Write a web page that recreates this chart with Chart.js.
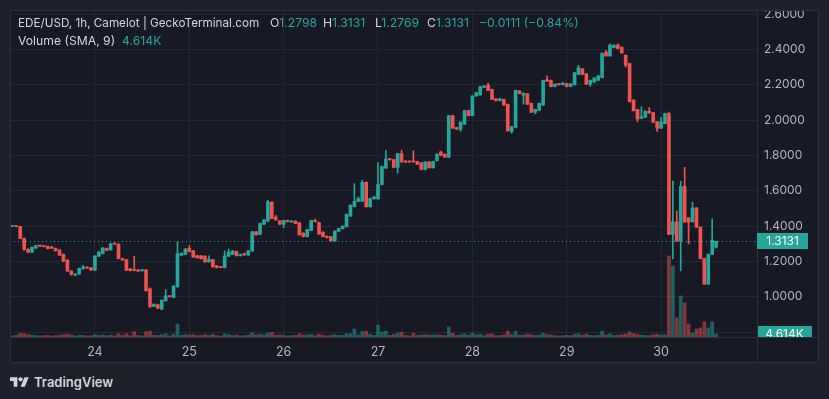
<!DOCTYPE html>
<html>
<head>
<meta charset="utf-8">
<script src="https://cdn.jsdelivr.net/npm/chart.js@4"></script>
<style>
  html, body { margin:0; padding:0; width:829px; height:399px; overflow:hidden; background:#1e212b; font-family: Inter, "Noto Sans", sans-serif; }
  #wrap { position:absolute; left:10px; top:10px; width:809px; height:353px; background:#171a25; }
  #wrap canvas { position:absolute; left:0; top:0; }
  .lg { position:absolute; color:#d1d4dc; font-size:12.2px; line-height:18px; white-space:nowrap; }
  .v { color:#26a69a; }
  #logo { position:absolute; left:10px; top:374px; color:#d1d4dc; font-size:13px; font-weight:600; display:flex; align-items:center; }
  #logo svg { fill:#d1d4dc; margin-right:5px; }
</style>
</head>
<body>
<div id="wrap"><canvas id="myChart" width="809" height="353"></canvas></div>
<div class="lg" style="left:18px;top:14px;font-size:11.7px">EDE/USD, 1h, Camelot | GeckoTerminal.com</div>
<div class="lg" style="left:270px;top:14px">O<span class="v" id="lo"></span></div>
<div class="lg" style="left:323px;top:14px">H<span class="v" id="lh"></span></div>
<div class="lg" style="left:375px;top:14px">L<span class="v" id="ll"></span></div>
<div class="lg" style="left:427px;top:14px">C<span class="v" id="lc"></span></div>
<div class="lg v" style="left:479px;top:14px">−0.0111 (−0.84%)</div>
<div class="lg" style="left:18px;top:32px">Volume (SMA, 9)<span class="v" id="lv" style="margin-left:7px"></span></div>
<div id="logo"><svg width="19" height="15" viewBox="0 0 36 28"><path d="M14 22H7V11H0V4h14v18z"/><circle cx="20" cy="8" r="4"/><path d="M28 22h-8l7.5-18h8z"/></svg><span>TradingView</span></div>
<script>
// hourly candles, first one at 23rd 03:00
const firstHour = 3;
const opens = [
  1.398,1.401,1.397,1.330,1.268,1.252,1.275,1.290,1.287,1.285,
  1.280,1.274,1.265,1.240,1.208,1.146,1.122,1.128,1.158,1.168,
  1.163,1.150,1.229,1.244,1.273,1.265,1.302,1.297,1.216,1.210,
  1.158,1.152,1.152,1.147,1.152,1.045,0.945,0.955,0.930,0.977,
  1.005,0.996,1.056,1.235,1.240,1.275,1.260,1.232,1.232,1.230,
  1.197,1.210,1.175,1.168,1.165,1.229,1.240,1.256,1.232,1.243,
  1.236,1.259,1.368,1.353,1.410,1.428,1.535,1.450,1.430,1.410,
  1.432,1.423,1.428,1.418,1.360,1.340,1.376,1.432,1.420,1.366,
  1.342,1.340,1.315,1.370,1.385,1.396,1.456,1.510,1.540,1.541,
  1.648,1.509,1.554,1.554,1.635,1.728,1.779,1.776,1.732,1.810,
  1.768,1.765,1.768,1.765,1.758,1.720,1.763,1.730,1.770,1.820,
  1.807,1.790,2.025,1.958,1.948,1.976,2.054,2.025,2.136,2.142,
  2.185,2.198,2.174,2.120,2.110,2.117,2.089,1.935,1.958,2.165,
  2.140,2.149,2.095,2.044,2.055,2.085,2.228,2.224,2.190,2.206,
  2.200,2.206,2.190,2.200,2.258,2.290,2.262,2.203,2.215,2.225,
  2.240,2.385,2.363,2.410,2.424,2.412,2.367,2.320,2.113,2.060,
  2.010,2.015,2.050,2.042,1.990,1.954,1.980,2.037,1.353,1.423,
  1.315,1.625,1.447,1.424,1.503,1.394,1.216,1.071,1.240,1.2798
];
const highs = [
  1.403,1.402,1.399,1.332,1.272,1.282,1.292,1.292,1.289,1.287,
  1.286,1.276,1.267,1.242,1.210,1.148,1.130,1.162,1.178,1.171,
  1.166,1.233,1.256,1.279,1.276,1.302,1.304,1.300,1.219,1.212,
  1.160,1.230,1.154,1.153,1.154,1.050,0.960,0.958,0.982,1.040,
  1.008,1.062,1.310,1.248,1.272,1.290,1.262,1.235,1.234,1.232,
  1.232,1.212,1.177,1.170,1.260,1.270,1.262,1.258,1.242,1.248,
  1.262,1.370,1.370,1.417,1.436,1.545,1.537,1.460,1.432,1.434,
  1.434,1.430,1.430,1.420,1.362,1.382,1.434,1.440,1.422,1.368,
  1.344,1.342,1.374,1.387,1.402,1.468,1.520,1.640,1.565,1.660,
  1.650,1.558,1.567,1.760,1.740,1.828,1.784,1.778,1.812,1.830,
  1.770,1.768,1.826,1.767,1.760,1.765,1.765,1.768,1.809,1.825,
  1.809,2.027,2.027,1.960,1.990,2.056,2.056,2.138,2.157,2.191,
  2.195,2.210,2.176,2.122,2.122,2.119,2.091,1.965,2.170,2.167,
  2.154,2.151,2.097,2.062,2.097,2.226,2.250,2.226,2.205,2.208,
  2.212,2.208,2.207,2.270,2.310,2.292,2.264,2.227,2.240,2.252,
  2.380,2.395,2.432,2.426,2.432,2.414,2.369,2.322,2.115,2.062,
  2.075,2.052,2.070,2.044,1.992,2.015,2.039,2.045,1.654,1.485,
  1.654,1.732,1.449,1.535,1.505,1.396,1.218,1.242,1.440,1.3131
];
const lows = [
  1.396,1.395,1.328,1.262,1.248,1.250,1.273,1.284,1.282,1.270,
  1.273,1.258,1.233,1.198,1.143,1.122,1.120,1.126,1.156,1.160,
  1.148,1.148,1.227,1.242,1.260,1.263,1.296,1.214,1.206,1.148,
  1.146,1.146,1.143,1.145,1.032,0.940,0.943,0.932,0.926,0.975,
  0.998,0.994,1.054,1.233,1.238,1.253,1.223,1.218,1.213,1.195,
  1.195,1.167,1.163,1.163,1.163,1.227,1.238,1.230,1.230,1.234,
  1.234,1.257,1.348,1.351,1.408,1.426,1.441,1.433,1.408,1.390,
  1.423,1.421,1.413,1.348,1.338,1.338,1.374,1.423,1.353,1.338,
  1.333,1.313,1.313,1.368,1.383,1.394,1.454,1.508,1.538,1.539,
  1.507,1.507,1.552,1.552,1.633,1.726,1.772,1.730,1.700,1.761,
  1.760,1.760,1.761,1.748,1.718,1.718,1.728,1.728,1.768,1.798,
  1.788,1.788,1.952,1.946,1.936,1.974,2.023,2.023,2.134,2.140,
  2.183,2.166,2.115,2.108,2.108,2.083,1.937,1.925,1.956,2.148,
  2.090,2.087,2.042,2.035,2.053,2.083,2.218,2.188,2.188,2.198,
  2.198,2.188,2.188,2.198,2.256,2.256,2.201,2.190,2.213,2.223,
  2.238,2.361,2.361,2.408,2.403,2.378,2.300,2.102,2.051,1.990,
  2.008,2.013,2.038,1.986,1.935,1.952,1.978,1.351,1.214,1.313,
  1.146,1.421,1.299,1.422,1.392,1.214,1.069,1.069,1.238,1.2769
];
const closes = [
  1.401,1.397,1.330,1.268,1.252,1.280,1.290,1.286,1.284,1.272,
  1.275,1.260,1.235,1.200,1.145,1.126,1.128,1.160,1.168,1.162,
  1.152,1.231,1.253,1.276,1.262,1.300,1.298,1.216,1.208,1.150,
  1.148,1.148,1.145,1.150,1.034,0.943,0.958,0.935,0.980,1.005,
  1.000,1.060,1.244,1.245,1.270,1.255,1.225,1.220,1.215,1.197,
  1.210,1.169,1.165,1.165,1.231,1.253,1.258,1.232,1.240,1.236,
  1.260,1.368,1.350,1.415,1.434,1.537,1.443,1.435,1.410,1.432,
  1.425,1.428,1.415,1.350,1.340,1.380,1.432,1.425,1.355,1.340,
  1.335,1.315,1.372,1.385,1.400,1.466,1.518,1.540,1.555,1.648,
  1.509,1.556,1.565,1.635,1.738,1.779,1.776,1.732,1.810,1.763,
  1.762,1.763,1.763,1.750,1.720,1.763,1.730,1.766,1.807,1.800,
  1.790,2.025,1.954,1.948,1.988,2.054,2.025,2.136,2.155,2.189,
  2.193,2.168,2.117,2.110,2.120,2.085,1.939,1.963,2.168,2.150,
  2.152,2.089,2.044,2.060,2.095,2.224,2.220,2.190,2.203,2.200,
  2.210,2.190,2.205,2.268,2.296,2.258,2.203,2.225,2.238,2.250,
  2.378,2.363,2.424,2.424,2.405,2.380,2.311,2.104,2.053,2.006,
  2.020,2.050,2.040,1.988,1.954,1.990,2.037,1.353,1.423,1.315,
  1.625,1.423,1.423,1.503,1.394,1.216,1.071,1.240,1.319,1.3131
];
// volume in K
const volumes = [
  0.4,0.6,1.3,1.3,0.9,0.7,0.6,0.4,0.5,0.6,
  0.4,0.5,0.7,0.9,1.1,0.8,0.4,0.7,0.6,0.4,
  0.5,1.0,0.6,0.8,0.5,0.7,0.4,1.2,0.6,1.3,
  0.5,2.0,0.6,0.4,2.0,2.2,0.7,0.6,0.9,1.2,
  0.4,1.1,4.9,0.7,0.9,0.8,0.9,0.5,0.6,0.9,
  0.6,1.0,0.5,0.4,1.2,0.9,0.6,0.8,0.4,0.5,
  0.7,1.6,0.8,1.1,0.8,1.5,1.8,0.7,0.8,0.7,
  0.4,0.5,0.6,1.2,0.7,0.8,1.0,0.5,1.1,0.7,
  0.4,0.7,0.9,0.6,0.7,1.2,1.3,3.0,0.8,2.0,
  2.2,1.0,0.6,4.5,1.9,2.2,0.6,1.0,1.5,1.8,
  0.6,0.4,1.4,0.6,0.8,0.9,0.7,0.8,0.9,0.7,
  0.6,3.8,1.4,0.6,0.9,1.2,0.7,1.5,0.8,1.0,
  0.5,1.1,1.2,0.5,0.6,0.9,2.2,1.0,2.2,0.7,
  0.8,1.1,0.9,0.6,0.7,1.5,0.9,0.8,0.5,0.4,
  0.5,0.6,0.5,1.0,1.2,0.7,1.1,0.6,0.5,0.7,
  2.2,0.8,1.2,0.6,0.7,0.9,1.1,1.9,1.3,1.0,
  0.7,0.6,0.5,0.9,1.0,0.7,0.9,30.6,26.8,7.2,
  15.5,12.9,4.9,1.5,3.0,3.4,5.7,3.4,5.7,1.1
];
const dayLabels = [24, 25, 26, 27, 28, 29, 30];
const priceTicks = [0.8, 1.0, 1.2, 1.4, 1.6, 1.8, 2.0, 2.2, 2.4, 2.6];
const lastPrice = 1.3131;
const volSmaText = '4.614K';

const UP = '#26a69a', DOWN = '#ef5350';
const UPV = 'rgba(38,166,154,0.5)', DOWNV = 'rgba(239,83,80,0.5)';
const GRID = '#232733', FRAME = '#2c303b';

document.getElementById('lo').textContent = opens[opens.length-1].toFixed(4);
document.getElementById('lh').textContent = highs[highs.length-1].toFixed(4);
document.getElementById('ll').textContent = lows[lows.length-1].toFixed(4);
document.getElementById('lc').textContent = closes[closes.length-1].toFixed(4);
document.getElementById('lv').textContent = volSmaText;

const hours = closes.map((c, i) => firstHour + i);
const isUp = closes.map((c, i) => c >= opens[i]);
const candleColors = isUp.map(u => u ? UP : DOWN);
const volColors = isUp.map(u => u ? UPV : DOWNV);

Chart.defaults.font.family = 'Inter, "Noto Sans", sans-serif';

// frame lines, last price line and axis labels
const overlay = {
  id: 'overlay',
  afterDraw(chart) {
    const c = chart.ctx, a = chart.chartArea, W = chart.width, H = chart.height;
    const y = chart.scales.y.getPixelForValue(lastPrice);
    c.save();
    c.strokeStyle = UP; c.lineWidth = 1; c.setLineDash([1, 3]);
    c.beginPath(); c.moveTo(a.left, Math.round(y) + 0.5); c.lineTo(a.right, Math.round(y) + 0.5); c.stroke();
    c.setLineDash([]);
    c.strokeStyle = FRAME;
    c.beginPath();
    c.moveTo(a.right + 0.5, 0); c.lineTo(a.right + 0.5, H);
    c.moveTo(0, a.bottom + 0.5); c.lineTo(W, a.bottom + 0.5);
    c.stroke();
    c.strokeRect(0.5, 0.5, W - 1, H - 1);
    // current price tag
    c.fillStyle = UP;
    c.fillRect(a.right, Math.round(y) - 8, 51, 16);
    c.fillStyle = '#ffffff'; c.font = '12px Inter, "Noto Sans", sans-serif';
    c.textAlign = 'center'; c.textBaseline = 'middle';
    c.fillText(lastPrice.toFixed(4), a.right + 25.5, Math.round(y) + 0.5);
    // volume tag, cut by the time axis line
    c.beginPath(); c.rect(a.right + 1, 0, W - a.right, a.bottom); c.clip();
    c.fillStyle = UP;
    c.fillRect(a.right, a.bottom - 11, 55, 16);
    c.fillStyle = '#ffffff';
    c.fillText(volSmaText, a.right + 27.5, a.bottom - 3);
    c.restore();
  }
};

new Chart(document.getElementById('myChart'), {
  type: 'bar',
  data: {
    datasets: [
      { label: 'Body', data: hours.map((h, i) => ({ x: h, y: [opens[i], closes[i]] })), backgroundColor: candleColors,
        barThickness: 3, minBarLength: 1, grouped: false, yAxisID: 'y', order: 1 },
      { label: 'Wick', data: hours.map((h, i) => ({ x: h, y: [lows[i], highs[i]] })), backgroundColor: candleColors,
        barThickness: 1, grouped: false, yAxisID: 'y', order: 2 },
      { label: 'Volume', data: hours.map((h, i) => ({ x: h, y: volumes[i] })), backgroundColor: volColors,
        barThickness: 3, grouped: false, yAxisID: 'v', order: 3 }
    ]
  },
  options: {
    responsive: false,
    animation: false,
    layout: { padding: 0 },
    plugins: { legend: { display: false }, tooltip: { enabled: false } },
    scales: {
      x: {
        type: 'linear', min: 2.4, max: 192.4, offset: false,
        grid: { color: GRID, drawTicks: false, offset: false },
        border: { display: false },
        ticks: { color: '#b2b5be', font: { size: 12.5 }, padding: 8, maxRotation: 0, autoSkip: false,
          callback: v => String(23 + v / 24) },
        afterBuildTicks: s => { s.ticks = dayLabels.map(d => ({ value: (d - 23) * 24 })); },
        afterFit: s => { s.height = 26; s.paddingLeft = 0; s.paddingRight = 0; }
      },
      y: {
        position: 'right', min: 0.772, max: 2.623,
        grid: { color: GRID, drawTicks: false },
        border: { display: false },
        ticks: { color: '#b2b5be', font: { size: 12 }, padding: 7, autoSkip: false,
          callback: v => v < 0.9 ? '' : v.toFixed(4) },
        afterBuildTicks: s => { s.ticks = priceTicks.map(p => ({ value: p })); },
        afterFit: s => { s.width = 62; s.paddingTop = 0; s.paddingBottom = 0; }
      },
      v: { display: false, min: 0, max: 123.5 }
    }
  },
  plugins: [overlay]
});
</script>
</body>
</html>
